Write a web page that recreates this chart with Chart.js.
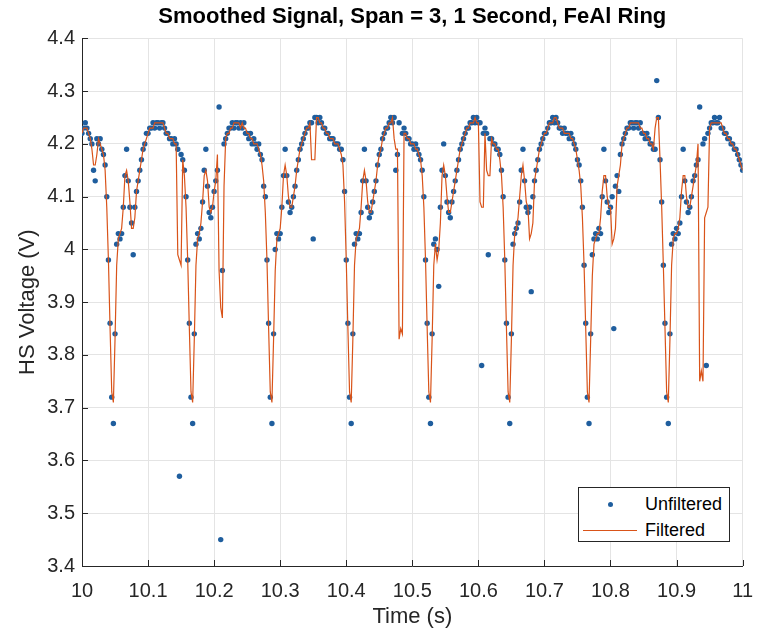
<!DOCTYPE html>
<html>
<head>
<meta charset="utf-8">
<title>Smoothed Signal</title>
<script src="https://cdn.jsdelivr.net/npm/chart.js@4.4.0/dist/chart.umd.min.js"></script>
<style>
    html, body { margin: 0; padding: 0; background: #fff; }
    #wrap { position: relative; width: 766px; height: 633px; }
    #legendBox {
        position: absolute; left: 578px; top: 487px; width: 152px; height: 55px;
        box-sizing: border-box; border: 1px solid #262626; background: #fff;
        font-family: 'Liberation Sans', Arial, sans-serif; font-size: 18px; color: #000;
    }
    #legendBox .row { position: absolute; left: 0; height: 24px; line-height: 24px; white-space: nowrap; }
    #legendBox .label { position: absolute; left: 66px; top: 0; }
    #legendBox .dot { position: absolute; left: 29px; top: 10px; width: 5px; height: 5px; border-radius: 50%; background: #1f5e9e; }
    #legendBox .line { position: absolute; left: 4px; top: 12px; width: 54px; height: 0; border-top: 1.2px solid #d95319; }
</style>
</head>
<body>
<div id="wrap">
    <canvas id="serialGraph" width="766" height="633"></canvas>
    <div id="legendBox">
        <div class="row" style="top:4px"><span class="dot"></span><span class="label">Unfiltered</span></div>
        <div class="row" style="top:30px"><span class="line"></span><span class="label">Filtered</span></div>
    </div>
</div>
<script>
// sample timing of the recording
var timeStart = 10;
var sampleStep = 0.0025;

var timeTicks = [10, 10.1, 10.2, 10.3, 10.4, 10.5, 10.6, 10.7, 10.8, 10.9, 11];
var voltTicks = [3.4, 3.5, 3.6, 3.7, 3.8, 3.9, 4, 4.1, 4.2, 4.3, 4.4];

// raw HS voltage, one row block per ring revolution (starts at each dip)
var unfiltered = [
    4.22,4.23,4.24,4.23,4.22,4.21,4.20,4.15,4.13,4.21,
    4.20,4.21,4.19,4.18,4.16,4.10,3.98,3.86,
    // 10.045
    3.72,3.67,3.84,4.01,4.03,4.02,4.03,4.08,4.14,4.19,
    4.13,4.08,4.05,3.99,4.08,4.11,4.13,4.15,4.17,4.19,
    4.20,4.22,4.22,4.23,4.23,4.24,4.23,4.24,4.24,4.23,
    4.24,4.24,4.23,4.22,4.22,4.21,4.21,4.20,4.21,4.20,
    4.19,3.57,4.18,4.17,4.15,4.10,3.98,3.86,
    // 10.165
    3.72,3.67,3.84,4.01,4.03,4.02,4.04,4.09,4.15,4.19,
    4.12,4.07,4.06,4.08,4.11,4.13,4.15,4.27,3.45,3.96,
    4.20,4.21,4.22,4.23,4.23,4.24,4.23,4.24,4.24,4.23,
    4.24,4.23,4.24,4.22,4.22,4.21,4.22,4.20,4.21,4.20,
    4.19,4.20,4.18,4.17,4.12,4.10,3.98,3.86,
    // 10.285
    3.72,3.67,3.84,4.00,4.03,4.02,4.03,4.08,4.14,4.19,
    4.14,4.09,4.07,4.08,4.10,4.12,4.15,4.17,4.19,4.20,
    4.21,4.22,4.23,4.23,4.24,4.24,4.02,4.25,4.25,4.24,
    4.25,4.24,4.23,4.23,4.22,4.22,4.21,4.21,4.21,4.20,
    4.20,4.20,4.19,4.19,4.17,4.11,3.98,3.86,
    // 10.405
    3.72,3.67,3.84,4.01,4.03,4.02,4.03,4.07,4.13,4.19,
    4.13,4.08,4.06,4.07,4.09,4.11,4.13,4.16,4.18,4.19,
    4.21,4.22,4.23,4.23,4.24,4.25,4.24,4.25,4.15,4.18,
    4.24,3.08,4.22,4.23,4.22,4.21,4.21,4.20,4.20,4.19,
    4.20,4.19,4.18,4.17,4.15,4.10,3.98,3.86,
    // 10.525
    3.72,3.67,3.84,4.01,4.02,4.00,3.93,4.08,4.15,4.20,
    4.14,4.09,4.07,4.06,4.09,4.11,4.13,4.15,4.17,4.19,
    4.20,4.21,4.22,4.23,4.23,4.24,4.24,4.25,4.24,4.25,
    4.24,4.24,3.78,4.22,4.23,4.22,3.99,4.21,4.21,4.20,
    4.20,4.19,4.19,4.18,4.15,4.10,3.98,3.86,
    // 10.645
    3.72,3.67,3.84,4.01,4.03,4.04,4.05,4.09,4.15,4.19,
    4.13,4.08,4.07,4.08,3.92,4.10,4.13,4.15,4.17,4.19,
    4.20,4.21,4.22,4.22,4.23,4.24,4.24,4.25,4.24,4.25,
    4.24,4.23,4.23,4.22,4.23,4.22,4.22,4.21,4.22,4.21,
    4.20,4.19,4.17,4.16,4.13,4.08,3.97,3.86,
    // 10.765
    3.72,3.67,3.84,3.99,4.02,4.03,4.02,4.04,4.03,4.10,
    4.19,4.13,4.09,4.07,4.08,4.10,3.85,4.12,4.14,4.11,
    4.18,4.20,4.21,4.22,4.23,4.23,4.24,4.24,4.23,4.24,
    4.24,4.23,4.24,4.22,4.22,4.21,4.22,4.21,4.20,4.20,
    4.19,4.19,4.32,4.25,4.17,4.09,3.97,3.86,
    // 10.885
    3.72,3.67,3.84,4.01,4.03,4.02,4.04,4.03,4.05,4.10,
    4.19,4.13,4.09,4.07,4.08,4.10,4.13,4.14,4.16,4.17,
    4.27,2.83,4.20,4.21,3.78,4.22,4.23,4.24,4.24,4.25,
    4.24,4.24,4.25,4.23,4.23,4.22,4.22,4.21,4.21,4.20,
    4.20,4.19,4.19,4.18,4.17,4.16,4.15
];

// smoothed trace (span 3)
var filtered = [
    4.22,4.23,4.23,4.23,4.22,4.21,4.19,4.16,4.16,4.18,
    4.21,4.20,4.19,4.18,4.15,4.08,3.98,3.85,
    // 10.045
    3.73,3.71,3.83,3.97,4.02,4.03,4.04,4.08,4.14,4.15,
    4.13,4.09,4.04,4.04,4.06,4.11,4.13,4.15,4.17,4.19,
    4.20,4.21,4.22,4.23,4.23,4.23,4.24,4.24,4.24,4.24,
    4.24,4.24,4.23,4.22,4.22,4.21,4.21,4.21,4.20,4.20,
    3.99,3.98,3.97,4.17,4.14,4.08,3.98,3.85,
    // 10.165
    3.73,3.71,3.83,3.97,4.02,4.03,4.05,4.09,4.14,4.15,
    4.13,4.08,4.07,4.08,4.11,4.13,4.18,3.96,3.89,3.87,
    4.12,4.21,4.22,4.22,4.23,4.23,4.24,4.24,4.24,4.24,
    4.23,4.24,4.23,4.23,4.22,4.22,4.21,4.21,4.20,4.20,
    4.20,4.19,4.18,4.16,4.13,4.07,3.98,3.85,
    // 10.285
    3.73,3.71,3.83,3.96,4.02,4.03,4.04,4.08,4.14,4.16,
    4.14,4.10,4.08,4.08,4.10,4.12,4.15,4.17,4.19,4.20,
    4.21,4.22,4.23,4.23,4.24,4.17,4.17,4.17,4.25,4.25,
    4.24,4.24,4.23,4.23,4.22,4.22,4.21,4.21,4.21,4.20,
    4.20,4.20,4.19,4.18,4.16,4.09,3.98,3.85,
    // 10.405
    3.73,3.71,3.83,3.97,4.02,4.03,4.04,4.08,4.13,4.15,
    4.13,4.09,4.07,4.07,4.09,4.11,4.13,4.16,4.18,4.19,
    4.21,4.22,4.23,4.23,4.24,4.24,4.25,4.21,4.19,4.19,
    3.83,3.85,3.84,4.22,4.22,4.21,4.21,4.20,4.20,4.20,
    4.19,4.19,4.18,4.17,4.14,4.08,3.98,3.85,
    // 10.525
    3.73,3.71,3.83,3.97,4.01,3.98,4.00,4.05,4.14,4.16,
    4.14,4.10,4.07,4.07,4.09,4.11,4.13,4.15,4.17,4.19,
    4.20,4.21,4.22,4.23,4.23,4.24,4.24,4.24,4.25,4.24,
    4.24,4.09,4.08,4.08,4.22,4.15,4.14,4.14,4.21,4.20,
    4.20,4.19,4.19,4.17,4.14,4.08,3.98,3.85,
    // 10.645
    3.73,3.71,3.83,3.97,4.03,4.04,4.06,4.10,4.14,4.16,
    4.13,4.09,4.08,4.02,4.03,4.05,4.13,4.15,4.17,4.19,
    4.20,4.21,4.22,4.22,4.23,4.24,4.24,4.24,4.25,4.25,
    4.24,4.23,4.23,4.23,4.22,4.22,4.22,4.22,4.21,4.21,
    4.20,4.19,4.17,4.15,4.12,4.06,3.97,3.85,
    // 10.765
    3.73,3.71,3.83,3.95,4.01,4.02,4.03,4.03,4.06,4.11,
    4.14,4.14,4.10,4.08,4.08,4.01,4.02,4.04,4.12,4.14,
    4.16,4.20,4.21,4.22,4.23,4.23,4.24,4.24,4.24,4.24,
    4.24,4.24,4.23,4.23,4.22,4.22,4.21,4.21,4.20,4.20,
    4.19,4.23,4.25,4.25,4.17,4.08,3.97,3.85,
    // 10.885
    3.73,3.71,3.83,3.97,4.02,4.03,4.03,4.04,4.06,4.11,
    4.14,4.14,4.10,4.08,4.08,4.10,4.12,4.14,4.16,4.20,
    3.75,3.77,3.75,4.06,4.07,4.08,4.23,4.24,4.24,4.24,
    4.24,4.24,4.24,4.24,4.23,4.22,4.22,4.21,4.21,4.20,
    4.20,4.19,4.19,4.18,4.17,4.16,4.15
];

var fontFamily = "'Liberation Sans', Arial, Helvetica, sans-serif";

function toPoints(values) {
    return values.map(function (v, i) {
        return { x: timeStart + i * sampleStep, y: v };
    });
}

function tickText(value) {
    return String(parseFloat(Number(value).toFixed(1)));
}

// put the title over the plot box instead of the whole canvas
var centerTitle = {
    id: 'centerTitle',
    afterLayout: function (chart) {
        if (chart.titleBlock) {
            chart.titleBlock.left = chart.chartArea.left;
            chart.titleBlock.right = chart.chartArea.right;
            chart.titleBlock.width = chart.chartArea.right - chart.chartArea.left;
        }
    }
};

// matlab style tick marks pointing into the axes
var innerTicks = {
    id: 'innerTicks',
    afterDraw: function (chart) {
        var ctx = chart.ctx;
        var area = chart.chartArea;
        var xs = chart.scales.x, ys = chart.scales.y;
        ctx.save();
        ctx.strokeStyle = '#262626';
        ctx.lineWidth = 1;
        ctx.beginPath();
        xs.ticks.forEach(function (t) {
            var px = Math.round(xs.getPixelForValue(t.value)) + 0.5;
            ctx.moveTo(px, area.bottom);
            ctx.lineTo(px, area.bottom - 6);
        });
        ys.ticks.forEach(function (t) {
            var py = Math.round(ys.getPixelForValue(t.value)) + 0.5;
            ctx.moveTo(area.left, py);
            ctx.lineTo(area.left + 6, py);
        });
        ctx.stroke();
        ctx.restore();
    }
};

window.addEventListener('load', function () {
    var chart = new Chart(document.getElementById('serialGraph').getContext('2d'), {
        type: 'line',
        data: {
            datasets: [{
                label: 'Unfiltered',
                data: toPoints(unfiltered),
                showLine: false,
                pointStyle: 'circle',
                pointRadius: 2.7,
                pointBorderWidth: 0,
                pointBackgroundColor: '#1f5e9e',
                backgroundColor: '#1f5e9e',
                borderColor: '#1f5e9e',
                order: 2
            }, {
                label: 'Filtered',
                data: toPoints(filtered),
                borderColor: '#d95319',
                borderWidth: 1.2,
                pointRadius: 0,
                tension: 0,
                fill: false,
                order: 1
            }]
        },
        options: {
            responsive: false,
            devicePixelRatio: 1,
            animation: false,
            events: [],
            layout: { padding: { left: 0, right: 14, top: 0, bottom: 0 } },
            plugins: {
                legend: { display: false },
                tooltip: { enabled: false },
                title: {
                    display: true,
                    text: 'Smoothed Signal, Span = 3, 1 Second, FeAl Ring',
                    color: '#000',
                    font: { family: fontFamily, size: 22, weight: 'bold' },
                    padding: { top: 4, bottom: 8 }
                }
            },
            scales: {
                x: {
                    type: 'linear',
                    min: 10,
                    max: 11,
                    afterBuildTicks: function (scale) {
                        scale.ticks = timeTicks.map(function (v) { return { value: v }; });
                    },
                    afterFit: function (scale) { scale.height = 67; },
                    ticks: {
                        autoSkip: false,
                        maxRotation: 0,
                        padding: 13,
                        color: '#262626',
                        font: { family: fontFamily, size: 20 },
                        callback: tickText
                    },
                    grid: { color: '#e4e4e4', lineWidth: 1, drawTicks: false },
                    border: { color: '#262626', width: 1 },
                    title: {
                        display: true,
                        text: 'Time (s)',
                        color: '#262626',
                        font: { family: fontFamily, size: 22 },
                        padding: { top: 0, bottom: 3 }
                    }
                },
                y: {
                    min: 3.4,
                    max: 4.4,
                    afterBuildTicks: function (scale) {
                        scale.ticks = voltTicks.map(function (v) { return { value: v }; });
                    },
                    afterFit: function (scale) { scale.width = 82; },
                    ticks: {
                        autoSkip: false,
                        padding: 7,
                        color: '#262626',
                        font: { family: fontFamily, size: 20 },
                        callback: tickText
                    },
                    grid: { color: '#e4e4e4', lineWidth: 1, drawTicks: false },
                    border: { color: '#262626', width: 1 },
                    title: {
                        display: true,
                        text: 'HS Voltage (V)',
                        color: '#262626',
                        font: { family: fontFamily, size: 22 },
                        padding: { top: 15, bottom: 0 }
                    }
                }
            }
        },
        plugins: [centerTitle, innerTicks]
    });
});
</script>
</body>
</html>
